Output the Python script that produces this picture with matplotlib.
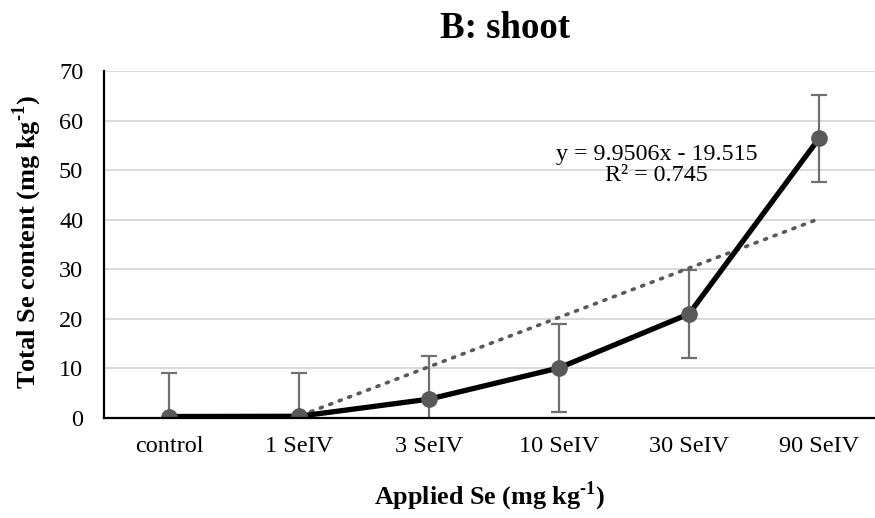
import numpy as np
import matplotlib.pyplot as plt

plt.rcParams["font.family"] = ["Liberation Serif", "DejaVu Serif"]
plt.rcParams["mathtext.fontset"] = "custom"
plt.rcParams["mathtext.rm"] = "Liberation Serif:bold"
plt.rcParams["mathtext.bf"] = "Liberation Serif:bold"

# shoot Se content per treatment
treatments = ["control", "1 SeIV", "3 SeIV", "10 SeIV", "30 SeIV", "90 SeIV"]
se_content = [0.3, 0.35, 3.8, 10.1, 21.0, 56.4]
se_error = [8.8, 8.8, 8.8, 8.8, 8.9, 8.85]

# linear trendline (x = 1..6)
slope = 9.9506
intercept = -19.515
r_squared = 0.745


def main():
    fig = plt.figure(figsize=(8.75, 5.18), dpi=100)
    ax = fig.add_axes([104 / 875, 1 - 418 / 518, 1 - 104 / 875, (418 - 71) / 518])

    pos = np.arange(len(treatments))

    # trendline, clipped by the y limits
    xs = np.linspace(pos[0], pos[-1], 200)
    ys = slope * (xs + 1) + intercept
    ax.plot(xs, ys, color="#595959", linestyle=(0, (0.6, 2.2)), linewidth=2.6,
            dash_capstyle="round", zorder=3)

    ax.errorbar(pos, se_content, yerr=se_error, fmt="none", ecolor="#707070",
                elinewidth=1.6, capsize=6, capthick=1.6, zorder=2)
    ax.plot(pos, se_content, color="black", linewidth=3.8, zorder=4,
            solid_joinstyle="round")
    ax.plot(pos, se_content, "o", color="#595959", markersize=11, zorder=5)

    ax.set_xlim(-0.5, (875 - 169) / 130)
    ax.set_ylim(0, 70)
    ax.set_yticks(np.arange(0, 71, 10))
    ax.set_xticks(pos)
    ax.set_xticklabels(treatments)
    ax.tick_params(axis="both", length=0, labelsize=17.5)
    ax.tick_params(axis="y", pad=15)
    ax.tick_params(axis="x", pad=13)
    ax.grid(axis="y", color="#d9d9d9", linewidth=1.4)
    ax.set_axisbelow(True)
    for side in ["top", "right"]:
        ax.spines[side].set_visible(False)
    for side in ["left", "bottom"]:
        ax.spines[side].set_linewidth(1.6)
        ax.spines[side].set_zorder(6)

    ax.text(3.75, 51, f"y = {slope}x - {abs(intercept)}\nR² = {r_squared}",
            ha="center", va="center", fontsize=17.3, linespacing=1.0, zorder=7)

    sup = r"$^{\text{-}1}$"
    fig.text(505 / 875, 1 - 28 / 518, "B: shoot", ha="center", va="center",
             fontsize=26.6, fontweight="bold")
    fig.text(27 / 875, 1 - 242 / 518, "Total Se content (mg kg" + sup + ")",
             rotation=90, ha="center", va="center", fontsize=19, fontweight="bold")
    fig.text(490 / 875, 1 - 496 / 518, "Applied Se (mg kg" + sup + ")",
             ha="center", va="center", fontsize=18.8, fontweight="bold")

    fig.savefig("out.png", dpi=100)


if __name__ == "__main__":
    main()
